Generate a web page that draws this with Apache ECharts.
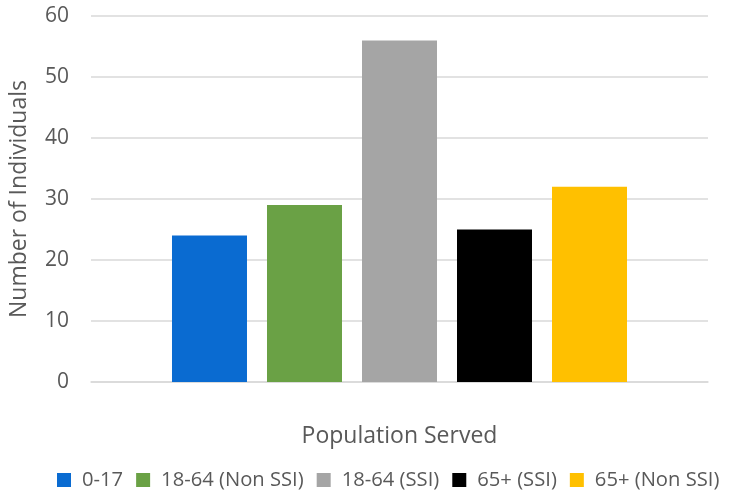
<!DOCTYPE html>
<html style="height: 100%">
<head>
<meta charset="utf-8">
<script src="https://cdn.jsdelivr.net/npm/echarts@6/dist/echarts.min.js"></script>
</head>
<body style="height: 100%; margin: 0">
<div id="container" style="width: 730px; height: 493px"></div>
<script type="text/javascript">
// data
var categories = [''];
var seriesNames = ['0-17', '18-64 (Non SSI)', '18-64 (SSI)', '65+ (SSI)', '65+ (Non SSI)'];
var seriesValues = [24, 29, 56, 25, 32];
var seriesColors = ['#0A6BD1', '#6AA145', '#A5A5A5', '#000000', '#FFC000'];
var yTicks = { min: 0, max: 60, interval: 10 };

var textColor = '#595959';
var fontFam = '"Open Sans", sans-serif';

var myChart = echarts.init(document.getElementById('container'));

var series = seriesNames.map(function (name, i) {
    return {
        name: name,
        type: 'bar',
        data: [seriesValues[i]],
        barWidth: 75,
        barGap: '26.67%',
        itemStyle: { color: seriesColors[i] }
    };
});

var option = {
    backgroundColor: '#ffffff',
    animation: false,
    grid: { left: 89, right: 22, top: 16, bottom: 111 },
    legend: {
        data: seriesNames,
        left: 52,
        top: 465,
        width: 700,
        padding: [5, 0, 5, 5],
        itemWidth: 14,
        itemHeight: 14,
        itemGap: 13,
        icon: 'rect',
        textStyle: { color: textColor, fontSize: 20.2, fontFamily: fontFam, padding: [0, 0, 0, 6] }
    },
    xAxis: {
        type: 'category',
        data: categories,
        name: 'Population Served',
        nameLocation: 'middle',
        nameGap: 43,
        nameTextStyle: { color: textColor, fontSize: 23, fontFamily: fontFam },
        axisLine: { show: true, lineStyle: { color: '#d9d9d9', width: 1.5 } },
        axisTick: { show: false },
        axisLabel: { show: false }
    },
    yAxis: {
        type: 'value',
        min: yTicks.min,
        max: yTicks.max,
        interval: yTicks.interval,
        name: 'Number of Individuals',
        nameLocation: 'middle',
        nameGap: 60,
        nameTextStyle: { color: textColor, fontSize: 23, fontFamily: fontFam },
        axisLine: { show: false },
        axisTick: { show: false },
        axisLabel: { color: textColor, fontSize: 21, fontFamily: fontFam, margin: 22 },
        splitLine: { lineStyle: { color: '#d9d9d9', width: 1.5 } }
    },
    series: series
};

myChart.setOption(option);
</script>
</body>
</html>
